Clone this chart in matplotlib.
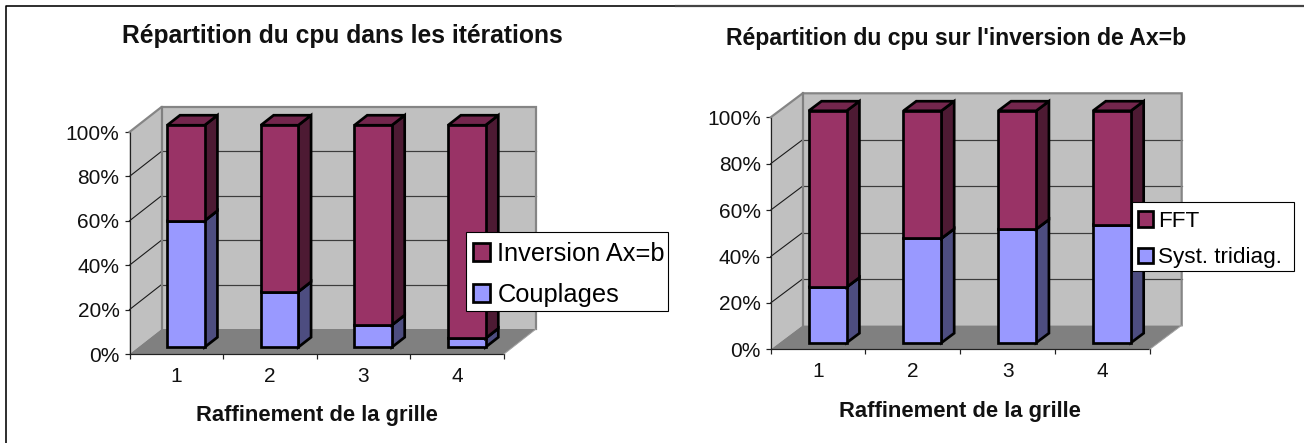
import matplotlib
matplotlib.use('Agg')
from matplotlib import pyplot as plt
from matplotlib.patches import Polygon, Patch, Rectangle
from matplotlib.lines import Line2D

categories = ['1', '2', '3', '4']
percent_ticks = [0, 20, 40, 60, 80, 100]

couplages = [57, 25, 10, 4]
inversion = [43, 75, 90, 96]
tridiag = [24, 45, 49, 51]
fft = [76, 55, 51, 49]

W, H = 1304, 443
plt.rcParams['font.family'] = ['Liberation Sans', 'DejaVu Sans']
fig = plt.figure(figsize=(W / 100, H / 100), dpi=100)

PX = 0.72  # one pixel in points
WALL = '#C0C0C0'
FLOOR = '#808080'
LOW = ('#9999FF', '#4D4D80', '#7373BF')
HIGH = ('#993366', '#4D1A33', '#73264D')
EDGE = 2.7 * PX


def px_rect(left, right, top, bottom):
    return [left / W, 1 - bottom / H, (right - left) / W, (bottom - top) / H]


def draw_chart(box, depth_px, low, high, low_name, high_name, legend_box, legend_size, handle_pad):
    ax = fig.add_axes(px_rect(*box))
    ax.set_xlim(0, 4)
    ax.set_ylim(0, 100)
    ax.patch.set_visible(False)
    dx = depth_px[0] / ((box[1] - box[0]) / 4)
    dy = depth_px[1] / ((box[3] - box[2]) / 100)

    # walls and floor
    ax.add_patch(Polygon([(0, 0), (dx, dy), (dx, 100 + dy), (0, 100)], fc=WALL, ec='none', clip_on=False, zorder=1))
    ax.add_patch(Polygon([(dx, dy), (4 + dx, dy), (4 + dx, 100 + dy), (dx, 100 + dy)], fc=WALL, ec='none', clip_on=False, zorder=1))
    ax.add_patch(Polygon([(0, 0), (4, 0), (4 + dx, dy), (dx, dy)], fc=FLOOR, ec='none', clip_on=False, zorder=1))
    for p in percent_ticks[1:-1]:
        ax.plot([dx, 4 + dx], [p + dy, p + dy], color='#3C3C3C', lw=1.2 * PX, clip_on=False, zorder=2)
        ax.plot([0, dx], [p, p + dy], color='#1A1A1A', lw=1.1 * PX, clip_on=False, zorder=2)
    ax.plot([0, dx, 4 + dx, 4 + dx], [100, 100 + dy, 100 + dy, dy], color='#858585', lw=2.2 * PX,
            clip_on=False, zorder=3, solid_joinstyle='miter')
    ax.plot([dx, dx], [dy, 100 + dy], color='#808080', lw=2.2 * PX, clip_on=False, zorder=3)
    ax.plot([4, 4 + dx], [0, dy], color='#A0A0A0', lw=1 * PX, clip_on=False, zorder=3)

    # bars, sitting about 0.3 of the depth behind the front edge
    x_off = 0.3 * dx
    y_off = 0.27 * dy
    bx = 0.4 * dx
    by = 0.4 * dy
    for i in range(len(categories)):
        x0 = i + 0.3 + x_off
        x1 = i + 0.7 + x_off
        base = y_off
        for v, cols in ((low[i], LOW), (high[i], HIGH)):
            top = base + v
            ax.add_patch(Polygon([(x1, base), (x1 + bx, base + by), (x1 + bx, top + by), (x1, top)],
                                 fc=cols[1], ec='black', lw=EDGE, clip_on=False, zorder=4))
            ax.add_patch(Polygon([(x0, top), (x1, top), (x1 + bx, top + by), (x0 + bx, top + by)],
                                 fc=cols[2], ec='black', lw=EDGE, clip_on=False, zorder=4))
            ax.add_patch(Polygon([(x0, base), (x1, base), (x1, top), (x0, top)],
                                 fc=cols[0], ec='black', lw=EDGE, clip_on=False, zorder=4))
            base = top

    for s in ('top', 'right'):
        ax.spines[s].set_visible(False)
    for s in ('left', 'bottom'):
        ax.spines[s].set_color('#222222')
        ax.spines[s].set_linewidth(1.2 * PX)
    ax.set_yticks(percent_ticks)
    ax.set_yticklabels([str(p) + '%' for p in percent_ticks], fontsize=15, color='#111111')
    ax.set_xticks(range(5))
    ax.set_xticklabels([])
    ax.set_xticks([i + 0.5 for i in range(4)], minor=True)
    ax.set_xticklabels(categories, minor=True, fontsize=15, color='#111111')
    ax.tick_params(axis='y', length=5 * PX, width=1.2 * PX, pad=5 * PX, color='#222222')
    ax.tick_params(axis='x', which='major', length=5 * PX, width=1.2 * PX, color='#222222')
    ax.tick_params(axis='x', which='minor', length=0, pad=13 * PX)

    # legend frame is its own box so it can be sized to the reference
    left, top, right, bottom = legend_box
    ax.add_patch(Rectangle((left / W, 1 - bottom / H), (right - left) / W, (bottom - top) / H,
                           transform=fig.transFigure, fc='white', ec='black', lw=1.1 * PX,
                           clip_on=False, zorder=5.5))
    handles = [Patch(fc=HIGH[0], ec='black', lw=EDGE), Patch(fc=LOW[0], ec='black', lw=EDGE)]
    leg = ax.legend(handles, [high_name, low_name], loc='upper left',
                    bbox_to_anchor=(left / W, 1 - (top + 3.5) / H), bbox_transform=fig.transFigure,
                    fontsize=legend_size, frameon=False,
                    handlelength=0.68, handleheight=0.68, handletextpad=handle_pad, labelspacing=0.67,
                    borderpad=0.27, borderaxespad=0)
    leg.set_zorder(6)
    return ax


draw_chart((129.5, 504, 132, 354), (32, 25), couplages, inversion, 'Couplages', 'Inversion Ax=b',
           (466, 231.5, 668.3, 311), 18.3, 0.28)
draw_chart((770.7, 1149.7, 117.3, 349.3), (32, 24), tridiag, fft, 'Syst. tridiag.', 'FFT',
           (1132, 201.5, 1293.7, 271), 16.2, 0.22)

fig.text(342 / W, 1 - 36 / H, 'Répartition du cpu dans les itérations', fontsize=17.7, fontweight='bold',
         ha='center', va='center', color='#111111')
fig.text(317 / W, 1 - 416 / H, 'Raffinement de la grille', fontsize=15.8, fontweight='bold',
         ha='center', va='center', color='#111111')
fig.text(956 / W, 1 - 38 / H, "Répartition du cpu sur l'inversion de Ax=b", fontsize=16.6, fontweight='bold',
         ha='center', va='center', color='#111111')
fig.text(960 / W, 1 - 411 / H, 'Raffinement de la grille', fontsize=15.8, fontweight='bold',
         ha='center', va='center', color='#111111')

# outer rules left over from the page
fig.add_artist(Line2D([6.2 / W, 6.2 / W, 676 / W], [0, 1 - 6.2 / H, 1 - 6.2 / H], color='black', lw=1.6 * PX))
fig.add_artist(Line2D([676 / W, 1], [1 - 5.8 / H, 1 - 5.8 / H], color='#444444', lw=2.2 * PX))

fig.savefig('out.png', dpi=100)
